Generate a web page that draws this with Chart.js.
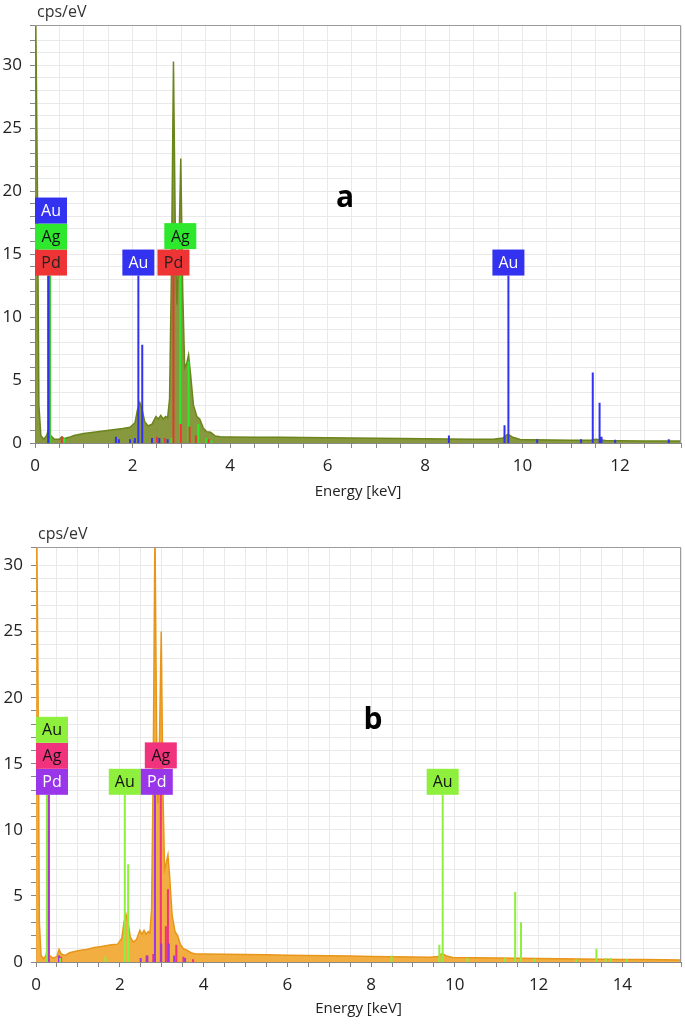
<!DOCTYPE html>
<html>
<head>
<meta charset="utf-8">
<script src="https://cdn.jsdelivr.net/npm/chart.js@4.4.1/dist/chart.umd.min.js"></script>
<style>
  html, body { margin: 0; padding: 0; background: #fff; }
  .panel { position: relative; width: 685px; height: 510px; }
  #wrapB { margin-top: 6px; }
</style>
</head>
<body>
<div class="panel"><canvas id="chartA"></canvas></div>
<div class="panel" id="wrapB"><canvas id="chartB"></canvas></div>
<script>
// ============================================================
// DATA — EDS spectra (cps/eV vs keV)
// ============================================================
const energyA = [0, 0.02, 0.05, 0.08, 0.12, 0.18, 0.24, 0.28, 0.32, 0.4, 0.5, 0.55, 0.6, 0.7, 0.8, 1.0, 1.2, 1.4, 1.6, 1.8, 1.95,
  2.05, 2.1, 2.15, 2.2, 2.25, 2.32, 2.4, 2.48, 2.53, 2.58, 2.63, 2.68, 2.72, 2.76, 2.8, 2.84, 2.88, 2.91, 2.95, 2.99,
  3.03, 3.07, 3.11, 3.15, 3.19, 3.25, 3.32, 3.38, 3.45, 3.52, 3.6, 3.7, 3.8, 4.0, 4.5, 5, 5.5, 6, 6.5, 7, 7.5, 8, 8.5,
  9, 9.4, 9.6, 9.7, 9.8, 9.95, 10.2, 10.6, 11, 11.4, 11.5, 11.7, 12, 12.5, 13, 13.25];
const countsA = [40, 40, 20, 3, 0.6, 0.3, 0.6, 1.1, 0.6, 0.3, 0.3, 0.5, 0.35, 0.45, 0.6, 0.75, 0.85, 0.95, 1.05, 1.15, 1.25,
  1.6, 2.6, 3.2, 2.6, 1.7, 1.35, 1.5, 2.1, 1.9, 2.2, 1.9, 2.1, 2.0, 3.5, 14, 30.3, 16, 11, 15, 22.6,
  12, 6, 6.3, 7.0, 5.5, 3.0, 2.1, 1.9, 1.2, 0.9, 0.85, 0.55, 0.5, 0.48, 0.46, 0.45, 0.43, 0.42, 0.4, 0.38, 0.36, 0.34, 0.32,
  0.3, 0.3, 0.4, 0.7, 0.45, 0.28, 0.26, 0.24, 0.22, 0.22, 0.3, 0.2, 0.18, 0.16, 0.15, 0.15];

const energyB = [0, 0.02, 0.05, 0.08, 0.12, 0.18, 0.24, 0.28, 0.32, 0.4, 0.5, 0.55, 0.6, 0.7, 0.8, 1.0, 1.2, 1.4, 1.6, 1.8, 1.95,
  2.05, 2.1, 2.15, 2.2, 2.25, 2.32, 2.4, 2.48, 2.53, 2.58, 2.63, 2.68, 2.72, 2.76, 2.8, 2.84, 2.88, 2.91, 2.95, 2.99,
  3.03, 3.07, 3.11, 3.15, 3.19, 3.25, 3.32, 3.38, 3.45, 3.52, 3.6, 3.7, 3.8, 4.0, 4.5, 5, 5.5, 6, 6.5, 7, 7.5, 8, 8.5,
  9, 9.4, 9.6, 9.7, 9.8, 9.95, 10.5, 11, 11.5, 12, 12.5, 13, 13.5, 14, 14.5, 15, 15.4];
const countsB = [40, 40, 20, 3, 0.5, 0.25, 0.5, 1.3, 0.5, 0.3, 0.4, 0.95, 0.6, 0.5, 0.7, 0.85, 0.95, 1.1, 1.2, 1.3, 1.35,
  1.8, 3.0, 3.6, 3.0, 1.9, 1.5, 1.7, 2.4, 2.1, 2.4, 2.1, 2.3, 2.2, 4, 15, 33, 17, 12, 17, 25,
  13, 7, 7.5, 8.1, 6.5, 3.5, 2.3, 2.0, 1.3, 1.0, 0.9, 0.7, 0.6, 0.6, 0.58, 0.56, 0.54, 0.52, 0.5, 0.47, 0.45, 0.42, 0.4,
  0.37, 0.36, 0.42, 0.65, 0.45, 0.34, 0.32, 0.3, 0.28, 0.26, 0.24, 0.22, 0.2, 0.19, 0.18, 0.17, 0.16];

// Element line markers: energy (keV) and drawn height (cps/eV)
const auEnergyA = [0.27, 2.12, 2.2, 9.71, 9.63, 11.44, 11.58, 1.66, 1.72, 1.95, 2.05, 2.4, 2.55, 2.72, 8.49, 10.3, 11.2, 11.62, 11.9, 13.0];
const auHeightA = [13.3, 13.3, 7.8, 13.3, 1.4, 5.6, 3.2, 0.5, 0.3, 0.3, 0.4, 0.4, 0.4, 0.3, 0.6, 0.3, 0.3, 0.5, 0.25, 0.3];
const agEnergyA = [0.31, 2.98, 3.15, 3.35, 0.6, 2.5, 2.64, 2.8, 3.52, 3.62];
const agHeightA = [13.3, 15.4, 6.5, 1.5, 0.4, 0.3, 0.3, 0.4, 0.4, 0.2];
const pdEnergyA = [0.29, 2.84, 2.99, 3.17, 0.55, 2.5, 2.66, 3.3, 3.56, 2.03];
const pdHeightA = [13.3, 13.3, 1.5, 1.3, 0.5, 0.5, 0.4, 0.6, 0.3, 0.2];

const auEnergyB = [0.26, 2.12, 2.2, 9.71, 9.63, 11.44, 11.58, 13.38, 1.66, 8.49, 10.3, 11.2, 11.9, 12.9, 13.6, 13.72, 14.1, 0.58];
const auHeightB = [12.65, 12.65, 7.4, 12.65, 1.3, 5.3, 3.0, 1.0, 0.4, 0.5, 0.3, 0.3, 0.25, 0.2, 0.3, 0.3, 0.25, 0.3];
const agEnergyB = [0.31, 2.98, 3.15, 3.1, 3.35, 0.6, 2.64, 2.8, 3.52, 3.75];
const agHeightB = [12.65, 14.65, 5.5, 2.7, 1.3, 0.4, 0.5, 0.6, 0.4, 0.2];
const pdEnergyB = [0.28, 2.84, 2.99, 3.17, 0.55, 2.5, 2.66, 3.3, 3.56];
const pdHeightB = [12.65, 12.65, 1.4, 1.4, 0.5, 0.3, 0.5, 0.5, 0.3];

// Element tags: symbol, line energy, line top
const tagElA = ['Pd', 'Ag', 'Au', 'Au', 'Pd', 'Ag', 'Au'];
const tagEnergyA = [0.29, 0.31, 0.27, 2.12, 2.84, 2.98, 9.71];
const tagTopA = [13.3, 13.3, 13.3, 13.3, 13.3, 15.4, 13.3];
const tagElB = ['Pd', 'Ag', 'Au', 'Au', 'Pd', 'Ag', 'Au'];
const tagEnergyB = [0.28, 0.31, 0.26, 2.12, 2.84, 2.98, 9.71];
const tagTopB = [12.65, 12.65, 12.65, 12.65, 12.65, 14.65, 12.65];

const xTickLabels = [0, 2, 4, 6, 8, 10, 12, 14];
const yTickLabels = [0, 5, 10, 15, 20, 25, 30];

// ============================================================
// HELPERS
// ============================================================
const FONT = '"Open Sans", "Noto Sans", sans-serif';

// Vertical segments from 0 to each height, separated by null gaps.
function markerPoints(es, hs) {
  const pts = [];
  es.forEach((e, i) => pts.push({ x: e, y: 0 }, { x: e, y: hs[i] }, { x: e, y: null }));
  return pts;
}
function zip(xs, ys) { return xs.map((x, i) => ({ x, y: ys[i] })); }

const panelDecor = {
  id: 'panelDecor',
  afterDatasetsDraw(chart, args, o) {
    const { ctx, chartArea: a, scales: { x, y } } = chart;
    ctx.save();
    // top/right frame
    ctx.strokeStyle = '#9a9a9a';
    ctx.lineWidth = 1;
    ctx.beginPath();
    ctx.moveTo(a.left, a.top + 0.5);
    ctx.lineTo(a.right - 0.5, a.top + 0.5);
    ctx.lineTo(a.right - 0.5, a.bottom);
    ctx.stroke();

    // element tags: nudge sideways on small overlaps, stack upward on big ones
    const placed = [];
    const w = 32, h = 26;
    o.tagEl.forEach((el, i) => {
      let left = Math.max(a.left, x.getPixelForValue(o.tagEnergy[i]) - w / 2);
      let bottom = y.getPixelForValue(o.tagTop[i]);
      let moved = true;
      while (moved) {
        moved = false;
        for (const p of placed) {
          const hOver = Math.min(left + w, p.left + w) - Math.max(left, p.left);
          const vOver = bottom > p.top + 0.5 && bottom - h < p.bottom - 0.5;
          if (hOver > 0.5 && vOver) {
            if (hOver < 8 && left > p.left) left = p.left + w;
            else bottom = p.top;
            moved = true;
          }
        }
      }
      placed.push({ left, top: bottom - h, bottom });
      const c = o.colors[el];
      ctx.fillStyle = c.bg;
      ctx.fillRect(left, bottom - h, w, h);
      ctx.fillStyle = c.fg;
      ctx.font = '16px ' + FONT;
      ctx.textAlign = 'center';
      ctx.textBaseline = 'middle';
      ctx.fillText(el, left + w / 2, bottom - h / 2 + 1);
    });

    // unit label and panel letter
    ctx.fillStyle = '#333';
    ctx.font = '16px ' + FONT;
    ctx.textAlign = 'left';
    ctx.textBaseline = 'middle';
    ctx.fillText('cps/eV', a.left + 2, a.top - 13);
    ctx.fillStyle = '#000';
    ctx.font = 'bold 30px ' + FONT;
    ctx.textAlign = 'center';
    ctx.fillText(o.letter, o.letterX, o.letterY);
    ctx.restore();
  }
};

function makePanel(id, p) {
  const markerSet = (label, es, hs, color, ord) => ({
    label, data: markerPoints(es, hs), borderColor: color, borderWidth: 2,
    pointRadius: 0, fill: false, tension: 0, order: ord
  });
  return new Chart(document.getElementById(id), {
    type: 'line',
    data: {
      datasets: [
        markerSet('Au', p.au[0], p.au[1], p.colors.Au.bg, 1),
        markerSet('Pd', p.pd[0], p.pd[1], p.colors.Pd.bg, 2),
        markerSet('Ag', p.ag[0], p.ag[1], p.colors.Ag.bg, 3),
        {
          label: 'spectrum', data: zip(p.energy, p.counts),
          borderColor: p.line, backgroundColor: p.fill, borderWidth: 1.5,
          pointRadius: 0, fill: 'origin', tension: 0, order: 10
        }
      ]
    },
    options: {
      responsive: true, maintainAspectRatio: false, animation: false,
      layout: { padding: { top: p.padTop, right: 4, left: 0, bottom: 0 } },
      plugins: {
        legend: { display: false }, tooltip: { enabled: false },
        panelDecor: {
          tagEl: p.tagEl, tagEnergy: p.tagEnergy, tagTop: p.tagTop, colors: p.colors,
          letter: p.letter, letterX: p.letterX, letterY: p.letterY
        }
      },
      scales: {
        x: {
          type: 'linear', min: 0, max: p.xMax,
          afterFit: s => { s.height = p.axisH; s.paddingLeft = 0; s.paddingRight = 0; },
          ticks: {
            stepSize: 0.5, autoSkip: false, maxRotation: 0, padding: 8,
            color: '#222', font: { family: FONT, size: 17 },
            callback: v => xTickLabels.includes(v) ? String(v) : ''
          },
          grid: { color: '#e9e9e9', tickColor: '#888', tickLength: 5 },
          border: { color: '#888' },
          title: {
            display: true, text: 'Energy [keV]', color: '#222',
            font: { family: FONT, size: 15 }, padding: { top: 0, bottom: p.titlePadB }
          }
        },
        y: {
          min: 0, max: p.yMax,
          afterFit: s => { s.width = p.axisW; },
          ticks: {
            stepSize: 1, autoSkip: false, padding: 8,
            color: '#222', font: { family: FONT, size: 17 },
            callback: v => yTickLabels.includes(v) ? String(v) : ''
          },
          grid: { color: '#e9e9e9', tickColor: '#888', tickLength: 5 },
          border: { color: '#888' }
        }
      }
    },
    plugins: [panelDecor]
  });
}

makePanel('chartA', {
  energy: energyA, counts: countsA,
  au: [auEnergyA, auHeightA], ag: [agEnergyA, agHeightA], pd: [pdEnergyA, pdHeightA],
  tagEl: tagElA, tagEnergy: tagEnergyA, tagTop: tagTopA,
  colors: { Au: { bg: '#3232f0', fg: '#fff' }, Ag: { bg: '#2ee82e', fg: '#111' }, Pd: { bg: '#ee3434', fg: '#222' } },
  line: '#6b851d', fill: 'rgba(126,143,46,0.92)',
  xMax: 13.25, yMax: 33.2, padTop: 25, axisH: 67, axisW: 35, titlePadB: 9,
  letter: 'a', letterX: 345, letterY: 198
});

makePanel('chartB', {
  energy: energyB, counts: countsB,
  au: [auEnergyB, auHeightB], ag: [agEnergyB, agHeightB], pd: [pdEnergyB, pdHeightB],
  tagEl: tagElB, tagEnergy: tagEnergyB, tagTop: tagTopB,
  colors: { Au: { bg: '#8ef03c', fg: '#111' }, Ag: { bg: '#f0337c', fg: '#111' }, Pd: { bg: '#9a36ea', fg: '#fff' } },
  line: '#e8961a', fill: 'rgba(242,170,55,0.95)',
  xMax: 15.4, yMax: 31.4, padTop: 31, axisH: 64, axisW: 36, titlePadB: 8,
  letter: 'b', letterX: 373, letterY: 204
});
</script>
</body>
</html>
